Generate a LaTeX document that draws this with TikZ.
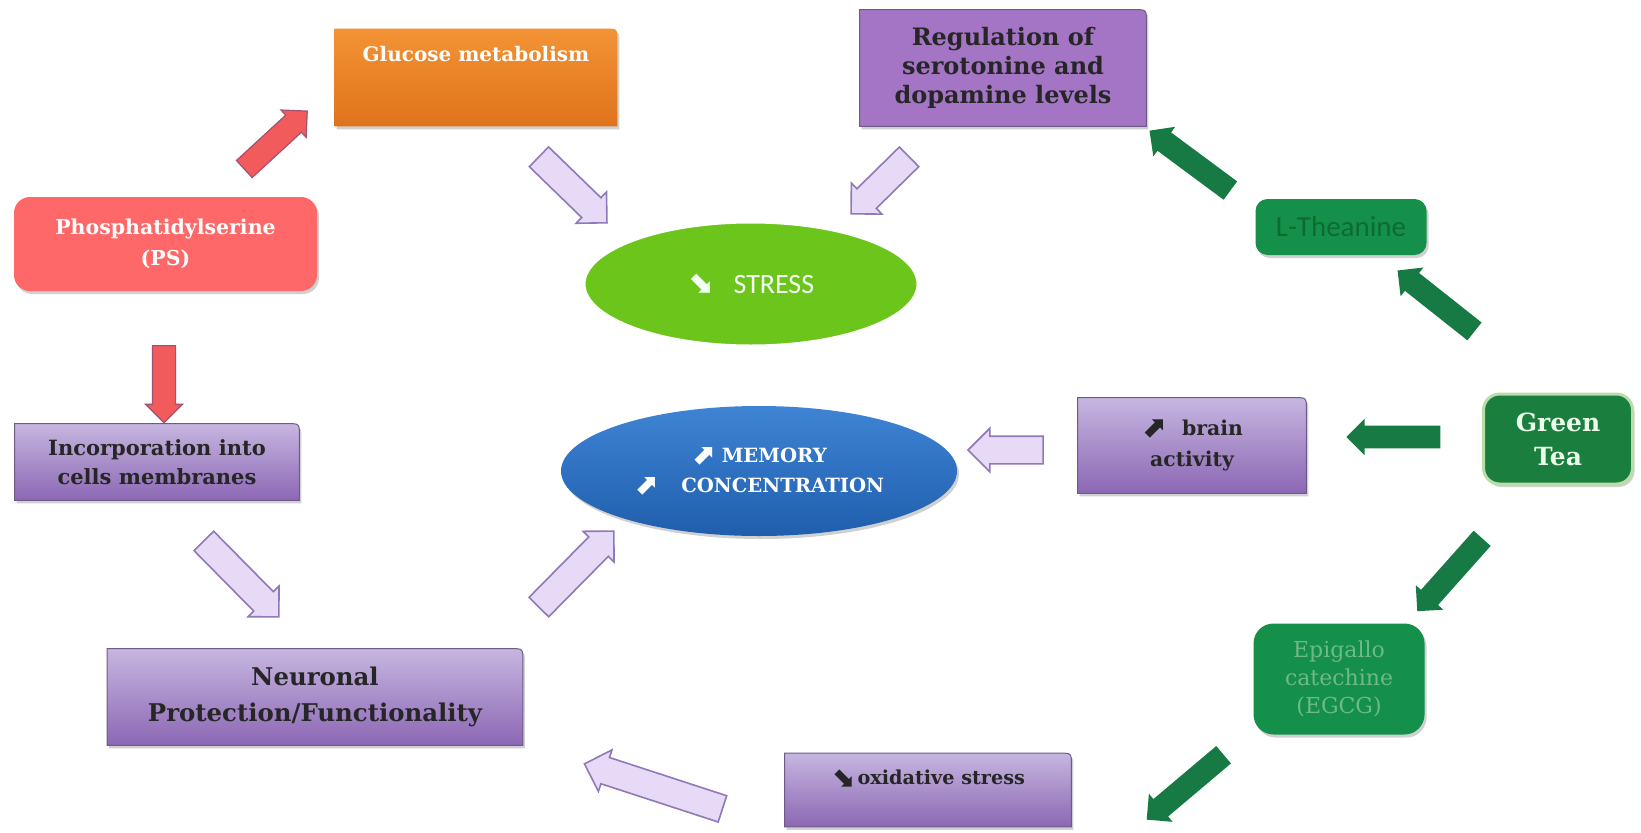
\documentclass[tikz,border=0pt]{standalone}
\usepackage{fontspec}
\newfontfamily\dserif{DejaVu Serif}
\newfontfamily\symf{DejaVu Sans}
\newfontfamily\carl{Carlito}
\usetikzlibrary{shapes.geometric,shapes.arrows,calc,shadows}
\pgfdeclarelayer{background}
\pgfsetlayers{background,main}
\definecolor{orgtop}{HTML}{F39335}
\definecolor{orgbot}{HTML}{DF731B}
\definecolor{regpurple}{HTML}{A474C5}
\definecolor{purtop}{HTML}{C6B6E0}
\definecolor{purbot}{HTML}{8C67B4}
\definecolor{purline}{HTML}{6E5C88}
\definecolor{psred}{HTML}{FF6868}
\definecolor{boxgreen}{HTML}{14904A}
\definecolor{teagreen}{HTML}{1A7E3E}
\definecolor{teaborder}{HTML}{B8DDA8}
\definecolor{thtext}{HTML}{0C6B35}
\definecolor{epitext}{HTML}{6DBA86}
\definecolor{stressgreen}{HTML}{6CC51A}
\definecolor{memtop}{HTML}{3F84D4}
\definecolor{membot}{HTML}{1F5EAD}
\definecolor{arrgreen}{HTML}{177A45}
\definecolor{arrred}{HTML}{F25B5B}
\definecolor{arrredline}{HTML}{A5506E}
\definecolor{arrpurp}{HTML}{E6DAF6}
\definecolor{arrpurpline}{HTML}{9079B8}
\newcommand\uparr{\raisebox{-0.15ex}{\scalebox{1.45}{\symf\bfseries ⬈}}}
\newcommand\dnarr{\raisebox{-0.15ex}{\scalebox{1.45}{\symf\bfseries ⬊}}}
\newcommand\blockarr[4]{\path let \p1=($(#3)-(#2)$), \n1={veclen(\x1,\y1)}, \n2={atan2(\y1,\x1)} in node[#1, minimum height=\n1, rotate=\n2] (#4) at ($(#2)!0.5!(#3)$) {};}
\newcommand\rtbox[2]{\path[#2] (#1.south west) -- (#1.north west) -- ([xshift=-6pt]#1.north east) .. controls (#1.north east) .. ([yshift=-6pt]#1.north east) -- (#1.south east) -- cycle;}
\tikzset{
  box/.style={inner sep=0pt, align=center},
  softshadow/.style={drop shadow={shadow xshift=1pt,shadow yshift=-1.5pt,opacity=.3,fill=black!60}},
  purpfill/.style={top color=purtop, bottom color=purbot, draw=purline, line width=0.5pt, softshadow},
  garr/.style={shape=single arrow, fill=arrgreen, draw=none, inner xsep=0pt, inner ysep=5.5pt, single arrow head extend=3.5pt},
  rarr/.style={shape=single arrow, fill=arrred, draw=arrredline, line width=0.6pt, inner xsep=0pt, inner ysep=5.5pt, single arrow head extend=3.5pt},
  parr/.style={shape=single arrow, fill=arrpurp, draw=arrpurpline, line width=0.8pt, inner xsep=0pt, inner ysep=6.5pt, single arrow head extend=4pt},
}
\begin{document}
\begin{tikzpicture}[x=0.5pt,y=0.5pt]
\useasboundingbox (0,0) rectangle (1641,832);

% ---- nodes ----
\node[box, minimum width=141pt, text height=16.5pt, text depth=32pt, text=white,
  font=\dserif\bfseries\fontsize{10}{12}\selectfont] (gluc) at (476,754.5) {Glucose metabolism};
\node[box, minimum width=143pt, minimum height=58pt, text=black!85,
  font=\dserif\bfseries\fontsize{12}{14.5}\selectfont] (reg) at (1003,764) {Regulation of\\serotonine and\\dopamine levels};
\node[box, minimum width=151.5pt, minimum height=47pt, fill=psred, rounded corners=8pt, softshadow, text=white,
  font=\dserif\bfseries\fontsize{10.25}{15.5}\selectfont] (ps) at (165.5,588) {Phosphatidylserine\\(PS)};
\node[box, minimum width=85.5pt, minimum height=28pt, fill=boxgreen, rounded corners=6pt, softshadow, text=thtext,
  font=\carl\fontsize{14.5}{16}\selectfont] (thea) at (1341,605) {L-Theanine};
\node[ellipse, minimum width=168pt, minimum height=63pt, fill=stressgreen, draw=white, line width=2.5pt,
  drop shadow={shadow xshift=0.5pt,shadow yshift=-1pt,opacity=.35,fill=black!50}, text=white!95!green,
  font=\carl\fontsize{14}{16}\selectfont] (stress) at (751,548) {\raisebox{0.1ex}{\scalebox{1.1}{\symf\bfseries ⬊}}\hspace{10pt}STRESS};
\node[ellipse, minimum width=198pt, minimum height=65pt, top color=memtop, bottom color=membot, softshadow, text=white, align=center,
  font=\dserif\bfseries\fontsize{9.8}{15}\selectfont] (mem) at (759,361) {\uparr\ MEMORY\\\uparr\hspace{1.2em}CONCENTRATION};
\node[box, minimum width=142pt, minimum height=38pt, text=black!85,
  font=\dserif\bfseries\fontsize{10.5}{14.5}\selectfont] (inc) at (157,370) {Incorporation into\\cells membranes};
\node[box, minimum width=114pt, minimum height=47.5pt, text=black!85,
  font=\dserif\bfseries\fontsize{10.2}{15.5}\selectfont] (brain) at (1192,386.5) {\uparr\hspace{0.8em}brain\\activity};
\node[box, minimum width=74.5pt, minimum height=45pt, fill=teagreen, draw=teaborder, line width=1.5pt, rounded corners=8pt, softshadow,
  text=white!92!green, font=\dserif\bfseries\fontsize{12.5}{17}\selectfont] (gt) at (1558,393) {Green\\Tea};
\node[box, minimum width=207.5pt, minimum height=48pt, text=black!85,
  font=\dserif\bfseries\fontsize{12.2}{18}\selectfont] (neu) at (315,135) {Neuronal\\Protection/Functionality};
\node[box, minimum width=85.5pt, minimum height=55.5pt, fill=boxgreen, rounded corners=10pt, softshadow, text=epitext,
  font=\dserif\fontsize{11}{14}\selectfont] (epi) at (1339,153) {Epigallo\\catechine\\(EGCG)};
\node[box, minimum width=143pt, text height=15.5pt, text depth=21pt, text=black!85,
  font=\dserif\bfseries\fontsize{9.6}{12}\selectfont] (oxi) at (928,42) {\dnarr\,oxidative stress};

% ---- box backgrounds ----
\begin{pgfonlayer}{background}
\fill[white] (0,0) rectangle (1641,832);
\rtbox{gluc}{top color=orgtop, bottom color=orgbot, softshadow}
\rtbox{reg}{fill=regpurple, draw=purline, line width=0.5pt, softshadow}
\rtbox{inc}{purpfill}
\rtbox{brain}{purpfill}
\rtbox{neu}{purpfill}
\rtbox{oxi}{purpfill}
\end{pgfonlayer}

% ---- arrow end points ----
\coordinate (r1a) at (240,659); \coordinate (r1b) at (303,717);
\coordinate (r2a) at (164,492); \coordinate (r2b) at (164,415);
\coordinate (p1a) at (534,680); \coordinate (p1b) at (602,614);
\coordinate (p2a) at (914,680); \coordinate (p2b) at (856,623);
\coordinate (p3a) at (199,296); \coordinate (p3b) at (274,220);
\coordinate (p4a) at (534,220); \coordinate (p4b) at (609,296);
\coordinate (p5a) at (1050,382); \coordinate (p5b) at (975,382);
\coordinate (p6a) at (729,21); \coordinate (p6b) at (591,66);
\coordinate (g1a) at (1235,638); \coordinate (g1b) at (1154,698);
\coordinate (g2a) at (1479,497); \coordinate (g2b) at (1402,558);
\coordinate (g3a) at (1446,395); \coordinate (g3b) at (1352,395);
\coordinate (g4a) at (1486,298); \coordinate (g4b) at (1421,225);
\coordinate (g5a) at (1228,81); \coordinate (g5b) at (1151,16);

% ---- block arrows ----
\blockarr{rarr}{r1a}{r1b}{psgluc}
\blockarr{rarr}{r2a}{r2b}{psinc}
\blockarr{parr}{p1a}{p1b}{glucstress}
\blockarr{parr}{p2a}{p2b}{regstress}
\blockarr{parr}{p3a}{p3b}{incneu}
\blockarr{parr}{p4a}{p4b}{neumem}
\blockarr{parr}{p5a}{p5b}{brainmem}
\blockarr{parr}{p6a}{p6b}{oxineu}
\blockarr{garr}{g1a}{g1b}{theareg}
\blockarr{garr}{g2a}{g2b}{gtthea}
\blockarr{garr}{g3a}{g3b}{gtbrain}
\blockarr{garr}{g4a}{g4b}{gtepi}
\blockarr{garr}{g5a}{g5b}{epioxi}
\end{tikzpicture}
\end{document}
